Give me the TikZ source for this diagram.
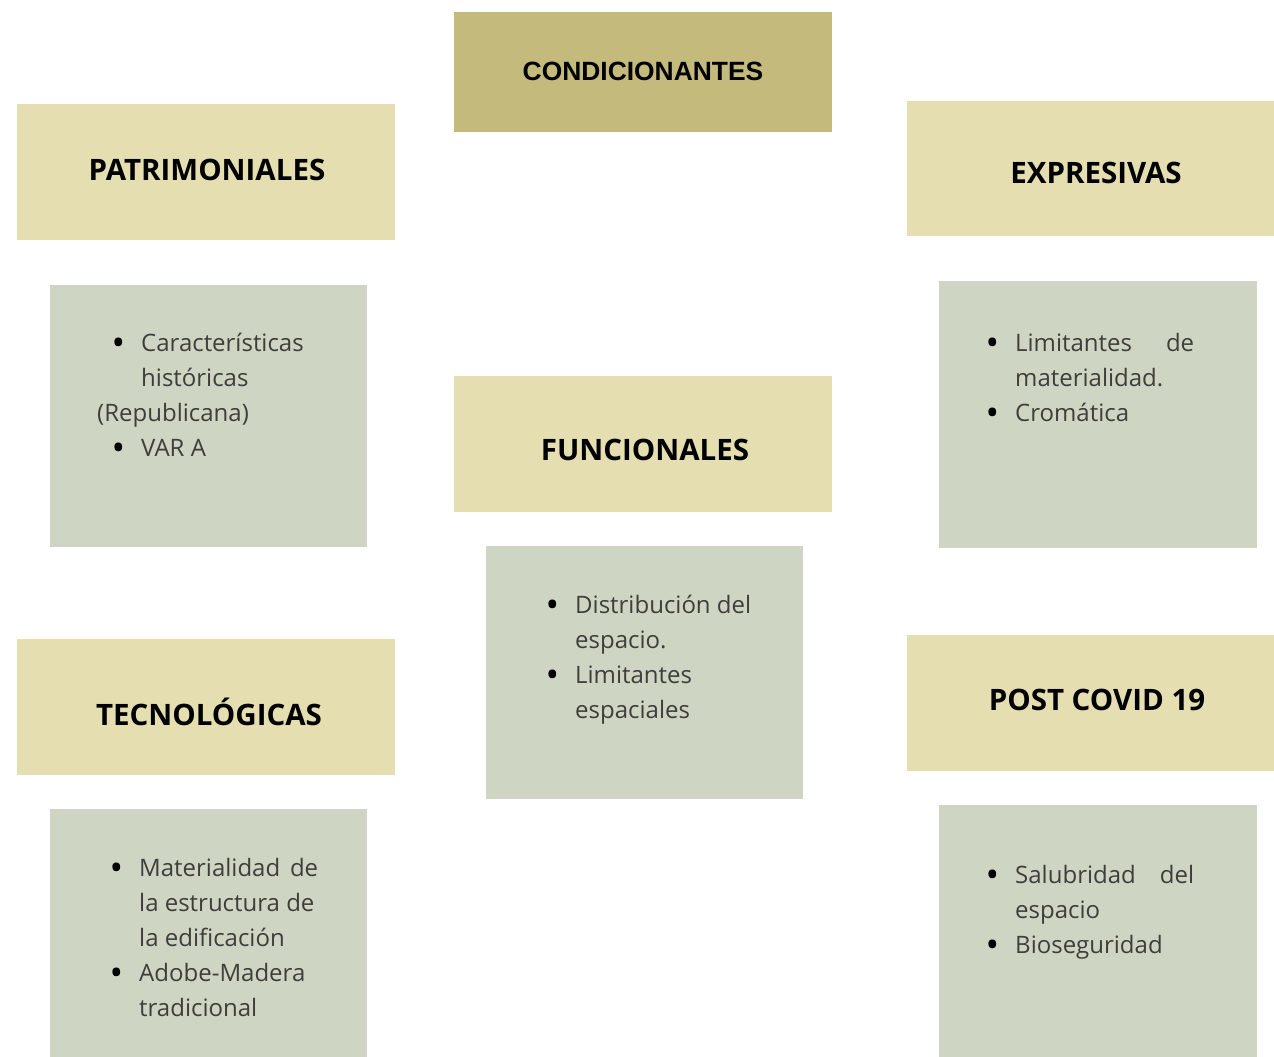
\documentclass[tikz,border=0pt]{standalone}
\usepackage{fontspec}
\usepackage{graphicx}
\setmainfont{Open Sans}
\newfontfamily\arialfont{Liberation Sans}
\definecolor{titlefill}{HTML}{C4BA7C}
\definecolor{headfill}{HTML}{E5DEB0}
\definecolor{bodyfill}{HTML}{CED6C3}
\definecolor{bodytext}{HTML}{3C3F3A}
\newcommand{\bul}{\llap{\textcolor{black}{\raisebox{-4pt}{\scalebox{1.5}{\textbullet}}}\hspace{16pt}}}
\newcommand{\itemlines}[1]{\begin{tabular}[t]{@{}l@{}}#1\end{tabular}}
\tikzset{
  headtext/.style={font=\fontsize{29.5}{34}\selectfont\bfseries, text=black, inner sep=0pt},
  itemtext/.style={font=\fontsize{24}{35}\selectfont, text=bodytext, inner sep=0pt, anchor=base west},
}
\begin{document}
\begin{tikzpicture}[x=1pt,y=-1pt]
\useasboundingbox (0,0) rectangle (1274,1057);
\fill[white] (0,0) rectangle (1274,1057);
% title
\path[fill=titlefill] (454,12) rectangle (832,132);
\node[font=\arialfont\fontsize{26.4}{30}\selectfont\bfseries, inner sep=0pt] (title) at (643,71) {CONDICIONANTES};
% header boxes
\path[fill=headfill] (17,104) rectangle (395,240);
\node[headtext] (patr) at (207,170) {PATRIMONIALES};
\path[fill=headfill] (907,101) rectangle (1274,236);
\node[headtext] (expr) at (1096,173) {EXPRESIVAS};
\path[fill=headfill] (454,376) rectangle (832,512);
\node[headtext] (func) at (645,450) {FUNCIONALES};
\path[fill=headfill] (17,639) rectangle (395,775);
\node[headtext] (tecn) at (209,712) {TECNOLÓGICAS};
\path[fill=headfill] (907,635) rectangle (1274,771);
\node[headtext] (post) at (1097,700) {POST COVID 19};
% body boxes
\path[fill=bodyfill] (50,285) rectangle (367,547);
\path[fill=bodyfill] (939,281) rectangle (1257,548);
\path[fill=bodyfill] (486,546) rectangle (803,799);
\path[fill=bodyfill] (50,809) rectangle (367,1057);
\path[fill=bodyfill] (939,805) rectangle (1257,1057);
% body texts
\node[itemtext] (patrtxt) at (141,351) {\itemlines{\bul Características\\ históricas\\ \hspace*{-44pt}(Republicana)\\ \bul VAR A}};
\node[itemtext] (exprtxt) at (1015,351) {\itemlines{\bul \hbox to 179pt{Limitantes\hfill de}\\ materialidad.\\ \bul Cromática}};
\node[itemtext] (functxt) at (575,613) {\itemlines{\bul Distribución del\\ espacio.\\ \bul Limitantes\\ espaciales}};
\node[itemtext] (tecntxt) at (139,876) {\itemlines{\bul \hbox to 179pt{Materialidad\hfill de}\\ la estructura de\\ la edificación\\ \bul Adobe-Madera\\ tradicional}};
\node[itemtext] (posttxt) at (1015,883) {\itemlines{\bul \hbox to 179pt{Salubridad\hfill del}\\ espacio\\ \bul Bioseguridad}};
\end{tikzpicture}
\end{document}
